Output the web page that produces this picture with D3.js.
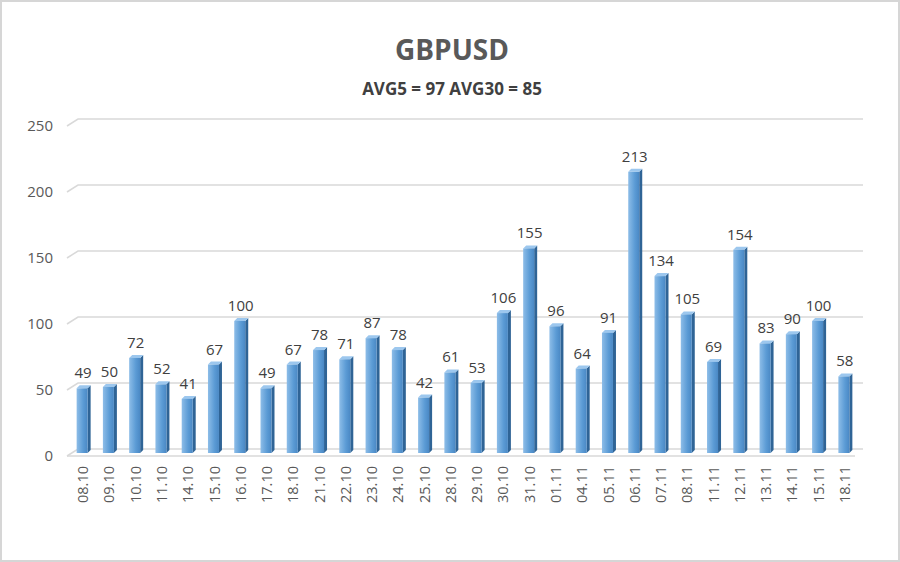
<!DOCTYPE html>
<html>
<head>
<meta charset="utf-8">
<script src="https://cdn.jsdelivr.net/npm/d3@7"></script>
<style>
  body { margin: 0; background: #fff; }
  #chart { width: 900px; height: 562px; }
  text { font-family: "Open Sans", "Noto Sans", sans-serif; }
</style>
</head>
<body>
<div id="chart"></div>
<script>
// data
const dates = ['08.10', '09.10', '10.10', '11.10', '14.10', '15.10', '16.10', '17.10', '18.10', '21.10',
    '22.10', '23.10', '24.10', '25.10', '28.10', '29.10', '30.10', '31.10', '01.11', '04.11',
    '05.11', '06.11', '07.11', '08.11', '11.11', '12.11', '13.11', '14.11', '15.11', '18.11'];
const values = [49, 50, 72, 52, 41, 67, 100, 49, 67, 78,
    71, 87, 78, 42, 61, 53, 106, 155, 96, 64,
    91, 213, 134, 105, 69, 154, 83, 90, 100, 58];
const yTicks = [0, 50, 100, 150, 200, 250];
const title = 'GBPUSD';
const subtitle = 'AVG5 = 97 AVG30 = 85';

const node = document.getElementById('chart');
const width = 900;
const height = 562;
const left = 67;
const right = 855;
const depthX = 11;
const depthY = 7;
const barWidth = 11;
const barDepth = 3;

const svg = d3.select(node).append('svg')
    .attr('width', width)
    .attr('height', height);

// 渐变
const defs = svg.append('defs');
const grad = defs.append('linearGradient')
    .attr('id', 'barFront')
    .attr('x1', 0).attr('x2', 1).attr('y1', 0).attr('y2', 0);
grad.append('stop').attr('offset', '0%').attr('stop-color', '#8dbde8');
grad.append('stop').attr('offset', '60%').attr('stop-color', '#5b9bd5');
grad.append('stop').attr('offset', '100%').attr('stop-color', '#4a88c4');

// 边框
svg.append('rect')
    .attr('x', 1).attr('y', 1)
    .attr('width', width - 2).attr('height', height - 2)
    .attr('fill', 'none')
    .attr('stroke', '#d6d6d6')
    .attr('stroke-width', 2);

// 标题
svg.append('text')
    .attr('x', 452).attr('y', 60)
    .attr('text-anchor', 'middle')
    .attr('font-size', 28)
    .attr('font-weight', 'bold')
    .attr('fill', '#595959')
    .text(title);
svg.append('text')
    .attr('x', 452).attr('y', 95)
    .attr('text-anchor', 'middle')
    .attr('font-size', 17)
    .attr('font-weight', 'bold')
    .attr('fill', '#404040')
    .text(subtitle);

// 比例尺 (后墙)
const xScale = d3.scaleBand()
    .domain(dates)
    .range([left, right]);
const yScale = d3.scaleLinear()
    .domain([0, 250])
    .range([449, 119]);

// 网格线
const grid = svg.append('g').attr('class', 'grid');
grid.selectAll('path')
    .data(yTicks)
    .enter()
    .append('path')
    .attr('d', (d) => `M${left},${yScale(d) + depthY}L${left + depthX},${yScale(d)}L${right + 8},${yScale(d)}`)
    .attr('fill', 'none')
    .attr('stroke', '#d9d9d9')
    .attr('stroke-width', 1.5);
// 底面前沿
svg.append('line')
    .attr('x1', left).attr('x2', right)
    .attr('y1', yScale(0) + depthY).attr('y2', yScale(0) + depthY)
    .attr('stroke', '#d9d9d9')
    .attr('stroke-width', 1.5);

// y轴标签
svg.append('g')
    .selectAll('text')
    .data(yTicks)
    .enter()
    .append('text')
    .attr('x', 53)
    .attr('y', (d) => yScale(d) + depthY)
    .attr('dy', '0.35em')
    .attr('text-anchor', 'end')
    .attr('font-size', 15)
    .attr('fill', '#595959')
    .text((d) => d);

// 柱子
const bars = svg.selectAll('.bar')
    .data(values.map((v, i) => ({ name: dates[i], value: v })))
    .enter()
    .append('g')
    .attr('class', 'bar');

const bx = (d) => xScale(d.name) + (xScale.bandwidth() - barWidth) / 2 + 2;
const topY = (d) => yScale(d.value) + 4;
const baseY = yScale(0) + 4;

// 右侧面
bars.append('path')
    .attr('d', (d) => {
        const x = bx(d) + barWidth;
        return `M${x},${topY(d)}L${x + barDepth},${topY(d) - 3}L${x + barDepth},${baseY - 3}L${x},${baseY}Z`;
    })
    .attr('fill', '#2f6496');
// 顶面
bars.append('path')
    .attr('d', (d) => {
        const x = bx(d);
        return `M${x},${topY(d)}L${x + barDepth},${topY(d) - 3}L${x + barWidth + barDepth},${topY(d) - 3}L${x + barWidth},${topY(d)}Z`;
    })
    .attr('fill', '#9cc7ee');
// 正面
bars.append('rect')
    .attr('x', bx)
    .attr('y', topY)
    .attr('width', barWidth)
    .attr('height', (d) => baseY - topY(d))
    .attr('fill', 'url(#barFront)');

// 数值
bars.append('text')
    .attr('x', (d) => bx(d) + barWidth / 2 + 1)
    .attr('y', (d) => topY(d) - 10)
    .attr('text-anchor', 'middle')
    .attr('font-size', 15)
    .attr('fill', '#404040')
    .text((d) => d.value);

// x轴标签
svg.append('g')
    .selectAll('text')
    .data(dates)
    .enter()
    .append('text')
    .attr('transform', (d) => `translate(${xScale(d) + xScale.bandwidth() / 2 + 3},466) rotate(-90)`)
    .attr('dy', '0.35em')
    .attr('text-anchor', 'end')
    .attr('font-size', 14.5)
    .attr('fill', '#595959')
    .text((d) => d);
</script>
</body>
</html>
